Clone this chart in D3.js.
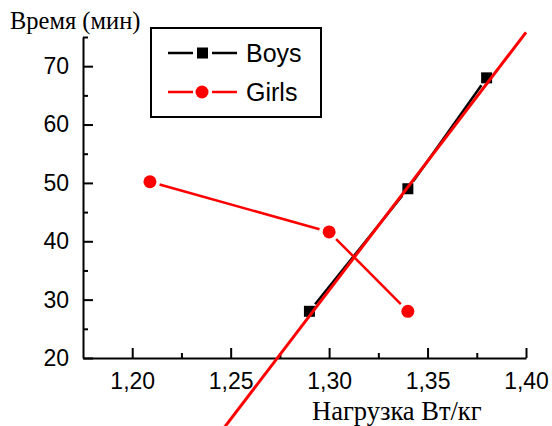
<!DOCTYPE html>
<html>
<head>
<meta charset="utf-8">
<script src="https://cdn.jsdelivr.net/npm/d3@7"></script>
<style>
  body { margin: 0; background: #fff; }
  svg { display: block; }
</style>
</head>
<body>
<div id="chart"></div>
<script>

	// values
	var boysX = [1.29, 1.34, 1.38];
	var boysY = [28, 49, 68];
	var girlsX = [1.209, 1.30, 1.34];
	var girlsY = [50.2, 41.6, 28];
	var fitX = [1.24, 1.40];
	var fitY = [5.1, 75.8];
	var xTicks = [1.20, 1.25, 1.30, 1.35, 1.40];
	var xMinor = [1.225, 1.275, 1.325, 1.375];
	var yTicks = [20, 30, 40, 50, 60, 70];
	var yMinor = [25, 35, 45, 55, 65, 75];
	var legendNames = ["Boys", "Girls"];

	var width = 552, height = 426;
	var sans = "'Liberation Sans', Arial, sans-serif";
	var serif = "'Liberation Serif', 'Times New Roman', serif";

	var svg = d3.select("#chart").append("svg")
		.attr("width", width)
		.attr("height", height);

	var x = d3.scaleLinear().domain([1.175, 1.40]).range([83, 526]);
	var y = d3.scaleLinear().domain([20, 75]).range([358, 37]);

	var comma = function(d){ return d3.format(".2f")(d).replace(".", ","); };

	// axes
	var xAxis = svg.append("g").attr("transform", "translate(0,358)")
		.call(d3.axisBottom(x).tickValues(xTicks).tickFormat(comma).tickSize(-10).tickSizeOuter(0).tickPadding(15));
	var xAxisMinor = svg.append("g").attr("transform", "translate(0,358)")
		.call(d3.axisBottom(x).tickValues(xMinor).tickFormat("").tickSize(-5).tickSizeOuter(0));
	var yAxis = svg.append("g").attr("transform", "translate(83,0)")
		.call(d3.axisLeft(y).tickValues(yTicks).tickSize(-10).tickSizeOuter(0).tickPadding(14));
	var yAxisMinor = svg.append("g").attr("transform", "translate(83,0)")
		.call(d3.axisLeft(y).tickValues(yMinor).tickFormat("").tickSize(-5).tickSizeOuter(0));

	[xAxis, xAxisMinor, yAxis, yAxisMinor].forEach(function(a){
		a.selectAll("path, line").attr("stroke", "#000").attr("stroke-width", 2);
		a.selectAll("text").attr("fill", "#000").style("font-family", sans).style("font-size", "23px");
	});
	xAxisMinor.select(".domain").remove();
	yAxisMinor.select(".domain").remove();

	svg.append("text").attr("x", 10).attr("y", 29)
		.style("font-family", serif).style("font-size", "24.5px").attr("fill", "#000")
		.text("Время (мин)");
	svg.append("text").attr("x", 312).attr("y", 420)
		.style("font-family", serif).style("font-size", "26.5px").attr("fill", "#000")
		.text("Нагрузка Вт/кг");

	// segments that stop short of the markers
	function gappedSegments(xs, ys, gap){
		var pts = xs.map(function(d, i){ return [x(d), y(ys[i])]; });
		var segs = [];
		for(var i = 0; i < pts.length - 1; i++){
			var a = pts[i], b = pts[i + 1];
			var dx = b[0] - a[0], dy = b[1] - a[1];
			var len = Math.sqrt(dx * dx + dy * dy);
			var ux = dx / len, uy = dy / len;
			segs.push([a[0] + ux * gap, a[1] + uy * gap, b[0] - ux * gap, b[1] - uy * gap]);
		}
		return segs;
	}

	function drawSegs(segs, color){
		svg.append("g").selectAll("line").data(segs).enter().append("line")
			.attr("x1", function(d){ return d[0]; })
			.attr("y1", function(d){ return d[1]; })
			.attr("x2", function(d){ return d[2]; })
			.attr("y2", function(d){ return d[3]; })
			.attr("stroke", color)
			.attr("stroke-width", 2.5);
	}

	// boys
	drawSegs(gappedSegments(boysX, boysY, 9), "#000");
	svg.append("g").selectAll("rect").data(boysX).enter().append("rect")
		.attr("x", function(d){ return x(d) - 5.5; })
		.attr("y", function(d, i){ return y(boysY[i]) - 5.5; })
		.attr("width", 11).attr("height", 11)
		.attr("fill", "#000");

	// girls
	drawSegs(gappedSegments(girlsX, girlsY, 10), "#f00");
	svg.append("g").selectAll("circle").data(girlsX).enter().append("circle")
		.attr("cx", function(d){ return x(d); })
		.attr("cy", function(d, i){ return y(girlsY[i]); })
		.attr("r", 6.5)
		.attr("fill", "#f00");

	// linear fit
	svg.append("line")
		.attr("x1", x(fitX[0])).attr("y1", y(fitY[0]))
		.attr("x2", x(fitX[1])).attr("y2", y(fitY[1]))
		.attr("stroke", "#f00").attr("stroke-width", 3);

	// legend
	var legend = svg.append("g");
	legend.append("rect").attr("x", 151).attr("y", 28).attr("width", 170).attr("height", 89)
		.attr("fill", "#fff").attr("stroke", "#000").attr("stroke-width", 2);

	var colors = ["#000", "#f00"];
	var rows = legend.selectAll("g.row").data(legendNames).enter().append("g")
		.attr("class", "row")
		.attr("transform", function(d, i){ return "translate(0," + (53 + i * 39) + ")"; });
	rows.append("line").attr("x1", 168).attr("x2", 193).attr("y1", 0).attr("y2", 0)
		.attr("stroke", function(d, i){ return colors[i]; }).attr("stroke-width", 2.5);
	rows.append("line").attr("x1", 212).attr("x2", 237).attr("y1", 0).attr("y2", 0)
		.attr("stroke", function(d, i){ return colors[i]; }).attr("stroke-width", 2.5);
	rows.filter(function(d, i){ return i == 0; }).append("rect")
		.attr("x", 197).attr("y", -5.5).attr("width", 11).attr("height", 11).attr("fill", "#000");
	rows.filter(function(d, i){ return i == 1; }).append("circle")
		.attr("cx", 202).attr("cy", 0).attr("r", 6.5).attr("fill", "#f00");
	rows.append("text").attr("x", 246).attr("y", 0).attr("dy", "0.36em")
		.style("font-family", sans).style("font-size", "25px").attr("fill", "#000")
		.text(function(d){ return d; });

</script>
</body>
</html>
